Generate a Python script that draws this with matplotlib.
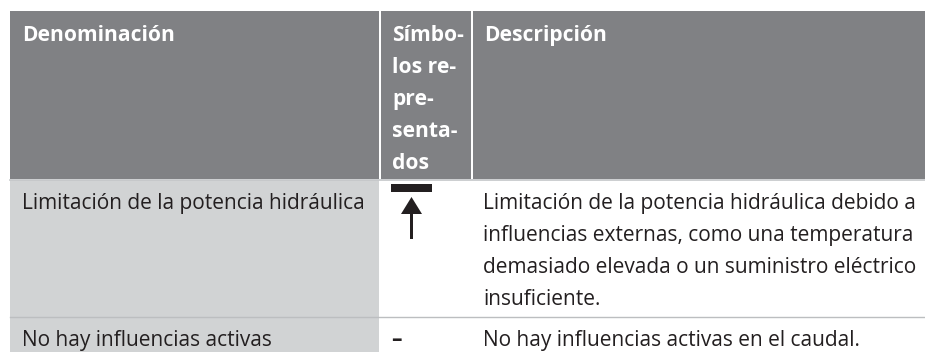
import matplotlib
matplotlib.use("Agg")
import matplotlib.pyplot as plt
from matplotlib.patches import Rectangle, Polygon

headers = ["Denominación", "Símbo-\nlos re-\npre-\nsenta-\ndos", "Descripción"]
row1 = ["Limitación de la potencia hidráulica", "", 
        ["Limitación de la potencia hidráulica debido a",
         "influencias externas, como una temperatura",
         "demasiado elevada o un suministro eléctrico",
         "insuficiente."]]
row2 = ["No hay influencias activas", "–", ["No hay influencias activas en el caudal."]]

HEAD = "#808184"
LIGHT = "#d1d3d4"
INK = "#231f20"
FONT = "Open Sans"
FS = 15.05
FSB = 15.1
LH = 32

fig = plt.figure(figsize=(9.25, 3.52), dpi=100)
ax = fig.add_axes([0, 0, 1, 1])
ax.set_xlim(0, 925)
ax.set_ylim(352, 0)
ax.axis("off")

for x0, x1 in [(10, 379), (381, 471), (473, 925)]:
    ax.add_patch(Rectangle((x0, 11), x1 - x0, 168, fc=HEAD, ec="none"))
ax.add_patch(Rectangle((10, 180), 369, 172, fc=LIGHT, ec="none"))
ax.plot([10, 925], [179.5, 179.5], color="#c4c6c8", lw=1.2)
ax.plot([10, 925], [316.5, 316.5], color="#bcbec0", lw=1.0)

def lines(x, y, items, fs=FS, **kw):
    for i, s in enumerate(items):
        ax.text(x, y + i * LH, s, family=FONT, fontsize=fs, va="baseline", ha="left", **kw)

lines(22, 41, [headers[0]], fs=FSB, color="white", fontweight="bold")
lines(392, 41, headers[1].split("\n"), fs=FSB, color="white", fontweight="bold")
lines(484, 41, [headers[2]], fs=FSB, color="white", fontweight="bold")

lines(22, 209, [row1[0]], color=INK)
lines(483, 209, row1[2], color=INK)
lines(22, 346, [row2[0]], color=INK)
lines(391, 346, [row2[1]], color=INK, fontweight="bold")
lines(483, 346, row2[2], color=INK)

ax.add_patch(Rectangle((391, 184), 41, 8, fc=INK, ec="none"))
ax.add_patch(Polygon([(411.5, 197), (401, 214), (422, 214)], fc=INK, ec="none"))
ax.add_patch(Rectangle((410, 214), 3, 25, fc=INK, ec="none"))

fig.savefig("out.png", dpi=100)
